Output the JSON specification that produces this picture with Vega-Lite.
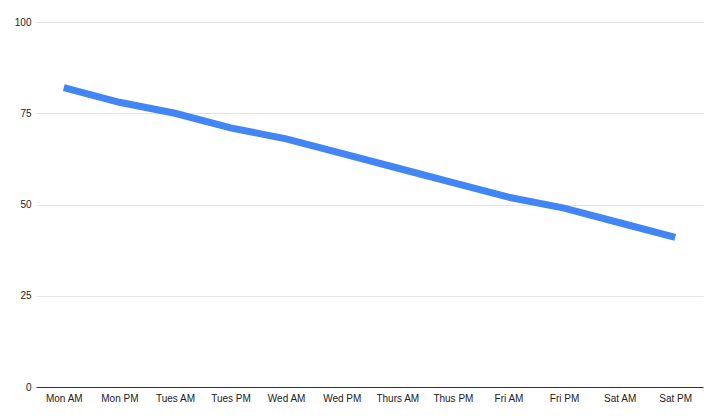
{
  "$schema": "https://vega.github.io/schema/vega-lite/v6.json",
  "width": 667,
  "height": 365,
  "autosize": {"type": "none"},
  "padding": {"left": 36, "top": 22, "right": 5, "bottom": 29},
  "background": "white",
  "config": {
    "view": {"stroke": null},
    "font": "Liberation Sans"
  },
  "data": {
    "values": [
      {"time": "Mon AM", "value": 82},
      {"time": "Mon PM", "value": 78},
      {"time": "Tues AM", "value": 75},
      {"time": "Tues PM", "value": 71},
      {"time": "Wed AM", "value": 68},
      {"time": "Wed PM", "value": 64},
      {"time": "Thurs AM", "value": 60},
      {"time": "Thus PM", "value": 56},
      {"time": "Fri AM", "value": 52},
      {"time": "Fri PM", "value": 49},
      {"time": "Sat AM", "value": 45},
      {"time": "Sat PM", "value": 41}
    ]
  },
  "mark": {"type": "line", "color": "#4285F4", "strokeWidth": 7, "strokeCap": "butt"},
  "encoding": {
    "x": {
      "field": "time",
      "type": "ordinal",
      "sort": null,
      "scale": {"type": "point", "padding": 0.5},
      "axis": {
        "title": null,
        "labelAngle": 0,
        "ticks": false,
        "labelPadding": 6,
        "labelFontSize": 10,
        "labelColor": "#222222",
        "domainColor": "#333333",
        "domainWidth": 1,
        "grid": false
      }
    },
    "y": {
      "field": "value",
      "type": "quantitative",
      "scale": {"domain": [0, 100], "nice": false},
      "axis": {
        "title": null,
        "values": [0, 25, 50, 75, 100],
        "ticks": false,
        "domain": false,
        "labelPadding": 5,
        "labelFontSize": 10,
        "labelColor": "#222222",
        "gridColor": "#e6e6e6",
        "gridWidth": 1
      }
    }
  }
}
